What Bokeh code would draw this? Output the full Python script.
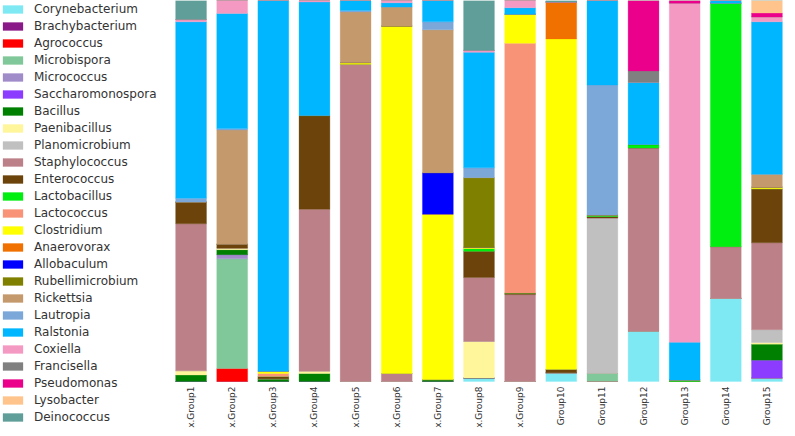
from bokeh.plotting import figure
from bokeh.models import Range1d, ColumnDataSource
from bokeh.core.properties import value
from bokeh.embed import file_html
from bokeh.resources import INLINE
import math

groups = ["x.Group1", "x.Group2", "x.Group3", "x.Group4", "x.Group5", "x.Group6",
          "x.Group7", "x.Group8", "x.Group9", "Group10", "Group11", "Group12",
          "Group13", "Group14", "Group15"]

genera = ["Corynebacterium", "Brachybacterium", "Agrococcus", "Microbispora", "Micrococcus",
          "Saccharomonospora", "Bacillus", "Paenibacillus", "Planomicrobium", "Staphylococcus",
          "Enterococcus", "Lactobacillus", "Lactococcus", "Clostridium", "Anaerovorax",
          "Allobaculum", "Rubellimicrobium", "Rickettsia", "Lautropia", "Ralstonia",
          "Coxiella", "Francisella", "Pseudomonas", "Lysobacter", "Deinococcus"]

colors = ["#7fe9f3", "#8b1a89", "#ff0000", "#80c89a", "#a08cc8",
          "#8c3cff", "#008000", "#fff59a", "#c0c0c0", "#bc8089",
          "#6b430b", "#00ee10", "#f99377", "#ffff00", "#f07000",
          "#0000ff", "#808000", "#c49a6c", "#7ba7d9", "#00b6ff",
          "#f49ac2", "#808080", "#eb008b", "#ffc48c", "#5f9e99"]

# relative abundance (%) per group, Group1..Group15
Corynebacterium   = [0, 0, 0, 0, 0, 0, 0, 0.9, 0, 2.3, 0, 13.2, 0, 21.8, 0.9]
Brachybacterium   = [0, 0, 0, 0, 0, 0, 0, 0, 0, 0, 0, 0, 0, 0, 0]
Agrococcus        = [0, 3.4, 0, 0, 0, 0, 0, 0, 0, 0, 0, 0, 0, 0, 0]
Microbispora      = [0, 28.8, 0, 0, 0, 0, 0, 0, 0, 0, 2.1, 0, 0, 0, 0]
Micrococcus       = [0, 1.1, 0, 0, 0, 0, 0, 0, 0, 0, 0, 0, 0, 0, 0]
Saccharomonospora = [0, 0, 0, 0, 0, 0, 0, 0, 0, 0, 0, 0, 0, 0, 4.7]
Bacillus          = [1.7, 1.3, 0.7, 2.1, 0, 0, 0.5, 0, 0, 0, 0, 0, 0, 0, 4.2]
Paenibacillus     = [1.1, 0.4, 0, 0.6, 0, 0, 0, 9.6, 0, 0, 0, 0, 0, 0, 0.4]
Planomicrobium    = [0, 0, 0, 0, 0, 0, 0, 0, 0, 0, 40.8, 0, 0, 0, 3.4]
Staphylococcus    = [38.6, 0, 0, 42.5, 83.3, 2.1, 0, 16.8, 22.8, 0, 0, 48.1, 0, 13.6, 22.8]
Enterococcus      = [5.7, 1.0, 0.6, 24.6, 0, 0, 0, 6.9, 0.4, 0.9, 0.4, 0, 0, 0, 14.2]
Lactobacillus     = [0, 0, 0, 0, 0, 0, 0, 0.7, 0, 0, 0.4, 0.9, 0.4, 63.9, 0]
Lactococcus       = [0, 0, 0.8, 0, 0, 0, 0, 0, 65.6, 0, 0, 0, 0, 0, 0]
Clostridium       = [0, 0, 0.6, 0, 0.4, 91.2, 43.4, 0.3, 7.6, 86.7, 0, 0, 0, 0, 0.4]
Anaerovorax       = [0, 0, 0, 0, 0, 0, 0, 0, 0, 9.7, 0, 0, 0, 0, 0]
Allobaculum       = [0, 0, 0, 0, 0, 0, 10.9, 0, 0, 0, 0, 0, 0, 0, 0]
Rubellimicrobium  = [0, 0, 0, 0, 0, 0, 0, 18.3, 0, 0, 0, 0, 0, 0, 0]
Rickettsia        = [0, 30.0, 0, 0, 13.3, 5.0, 37.5, 0, 0, 0, 0, 0, 0, 0, 3.4]
Lautropia         = [1.0, 0.4, 0, 0, 0.4, 0, 2.1, 2.6, 0, 0, 34.1, 0, 0, 0, 0]
Ralstonia         = [46.3, 30.2, 97.3, 29.8, 2.6, 1.1, 5.6, 30.3, 1.7, 0, 22.2, 16.3, 9.9, 0.7, 40.0]
Coxiella          = [0.6, 3.4, 0, 0.4, 0, 0.6, 0, 0.5, 1.9, 0, 0, 0, 89.0, 0, 1.3]
Francisella       = [0, 0, 0, 0, 0, 0, 0, 0, 0, 0, 0, 3.0, 0, 0, 0]
Pseudomonas       = [0, 0, 0, 0, 0, 0, 0, 0, 0, 0, 0, 18.5, 0.7, 0, 1.0]
Lysobacter        = [0, 0, 0, 0, 0, 0, 0, 0, 0, 0, 0, 0, 0, 0, 3.3]
Deinococcus       = [5.0, 0, 0, 0, 0, 0, 0, 13.1, 0, 0.4, 0, 0, 0, 0, 0]

series = [Corynebacterium, Brachybacterium, Agrococcus, Microbispora, Micrococcus,
          Saccharomonospora, Bacillus, Paenibacillus, Planomicrobium, Staphylococcus,
          Enterococcus, Lactobacillus, Lactococcus, Clostridium, Anaerovorax,
          Allobaculum, Rubellimicrobium, Rickettsia, Lautropia, Ralstonia,
          Coxiella, Francisella, Pseudomonas, Lysobacter, Deinococcus]

xpos = list(range(1, len(groups) + 1))
data = {"x": xpos, "label": groups, "base": [0] * len(groups)}
for name, vals in zip(genera, series):
    data[name] = vals
source = ColumnDataSource(data)

# layout: legend area on the left, bars to the right, tick labels under the bars
W, H = 787, 428
left_space = 170          # px reserved for the legend
bar_area_h = 381          # px from top to the bars' baseline
unit = (W - left_space) / len(groups)
x_start = 0.5 - left_space / unit
y_start = -(100.0 * H / bar_area_h - 100.0)

p = figure(width=W, height=H, output_backend="svg", toolbar_location=None,
           x_range=Range1d(x_start, len(groups) + 0.5), y_range=Range1d(y_start, 100),
           x_axis_type=None, y_axis_type=None,
           min_border_left=0, min_border_right=0, min_border_top=0, min_border_bottom=0)
p.outline_line_color = None
p.xgrid.visible = False
p.ygrid.visible = False

p.vbar_stack(genera, x="x", width=0.75, source=source, color=colors,
             line_width=0.3, legend_label=genera)

# category (tick) labels, rotated, hanging below each bar
p.text(x="x", y="base", text="label", source=source, angle=math.pi / 2,
       y_offset=5, text_align="right", text_baseline="middle",
       text_font=value("DejaVu Sans"), text_font_size="9px", text_color="#333333")

lg = p.legend[0]
lg.location = "top_left"
lg.margin = 0
lg.padding = 0
lg.spacing = 0
lg.border_line_color = None
lg.background_fill_alpha = 0
lg.glyph_width = 25
lg.glyph_height = 10
lg.label_height = 17
lg.label_standoff = 9
lg.label_text_font = "DejaVu Sans"
lg.label_text_font_size = "12px"
lg.label_text_color = "#333333"

open("out.html", "w").write(file_html(p, INLINE))
